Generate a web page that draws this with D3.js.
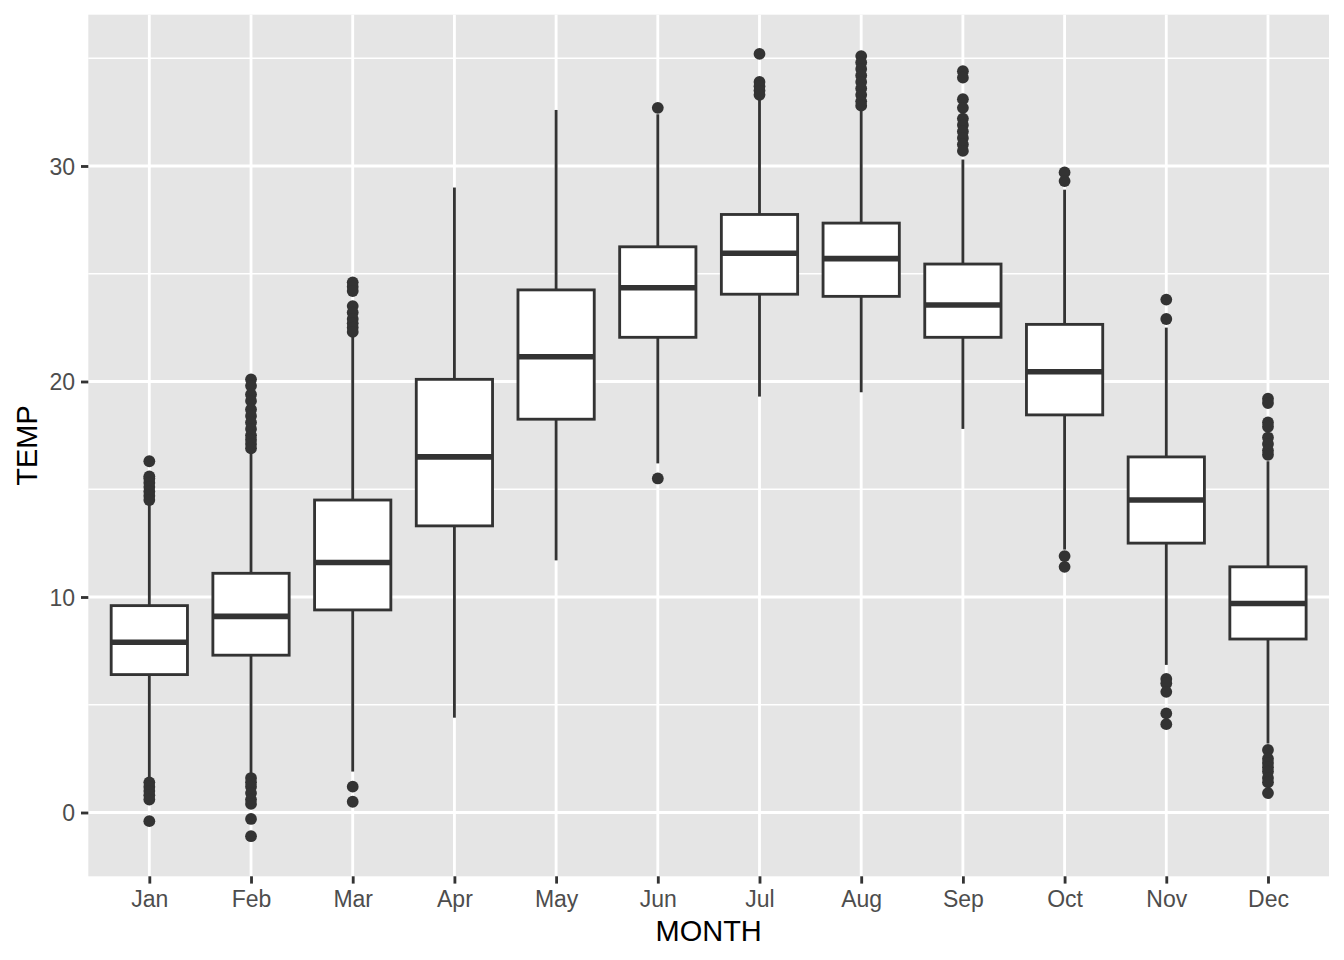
<!DOCTYPE html>
<html>
<head>
<meta charset="utf-8">
<script src="https://cdn.jsdelivr.net/npm/d3@7"></script>
<style>
  html, body { margin: 0; padding: 0; background: #ffffff; }
  svg { display: block; }
</style>
</head>
<body>
<svg id="chart" width="1344" height="960"></svg>
<script>
// ---- data ----
const months = ["Jan","Feb","Mar","Apr","May","Jun","Jul","Aug","Sep","Oct","Nov","Dec"];
const q1     = [6.4, 7.3, 9.4, 13.3, 18.25, 22.05, 24.05, 23.95, 22.05, 18.45, 12.5, 8.05];
const median = [7.9, 9.1, 11.6, 16.5, 21.15, 24.35, 25.95, 25.7, 23.55, 20.45, 14.5, 9.7];
const q3     = [9.6, 11.1, 14.5, 20.1, 24.25, 26.25, 27.75, 27.35, 25.45, 22.65, 16.5, 11.4];
const whiskerLow  = [1.6, 1.8, 1.9, 4.4, 11.7, 16.2, 19.3, 19.5, 17.8, 12.2, 6.85, 3.2];
const whiskerHigh = [14.3, 16.7, 22.1, 29.0, 32.6, 32.4, 33.1, 32.6, 30.3, 28.9, 22.5, 16.3];
const outliers = [
  [16.3, 15.6, 15.5, 15.3, 15.1, 14.9, 14.7, 14.5, 1.4, 1.2, 1.0, 0.8, 0.6, -0.4],
  [20.1, 19.8, 19.4, 19.1, 18.7, 18.4, 18.1, 17.8, 17.5, 17.3, 17.1, 16.9, 1.6, 1.4, 1.2, 0.9, 0.6, 0.4, -0.3, -1.1],
  [24.6, 24.4, 24.2, 23.5, 23.2, 22.9, 22.7, 22.5, 22.3, 1.2, 0.5],
  [],
  [],
  [32.7, 15.5],
  [35.2, 33.9, 33.7, 33.5, 33.3],
  [35.1, 34.8, 34.5, 34.2, 33.9, 33.6, 33.3, 33.0, 32.8],
  [34.4, 34.1, 33.1, 32.7, 32.2, 31.9, 31.6, 31.3, 31.0, 30.7],
  [29.7, 29.3, 11.9, 11.4],
  [23.8, 22.9, 6.2, 6.0, 5.6, 4.6, 4.1],
  [19.2, 19.0, 18.1, 17.9, 17.4, 17.1, 16.8, 16.6, 2.9, 2.5, 2.3, 2.1, 1.9, 1.6, 1.4, 0.9]
];
const yTicks = [0, 10, 20, 30];
const yMinorTicks = [5, 15, 25, 35];
const xTitle = "MONTH";
const yTitle = "TEMP";

// ---- layout ----
const svg = d3.select("#chart");
const panel = { left: 88.3, right: 1329, top: 14.7, bottom: 876.3 };
const ink = "#333333";

const x = d3.scalePoint().domain(months).range([panel.left, panel.right]).padding(0.6);
const y = d3.scaleLinear().domain([-2.96, 37.02]).range([panel.bottom, panel.top]);
const step = x.step();
const boxW = step * 0.75;

// panel background
svg.append("rect")
  .attr("x", panel.left).attr("y", panel.top)
  .attr("width", panel.right - panel.left).attr("height", panel.bottom - panel.top)
  .attr("fill", "#E5E5E5");

const grid = svg.append("g");
grid.selectAll("line.minor").data(yMinorTicks).join("line")
  .attr("x1", panel.left).attr("x2", panel.right)
  .attr("y1", d => y(d)).attr("y2", d => y(d))
  .attr("stroke", "#ffffff").attr("stroke-width", 1.42);
grid.selectAll("line.majory").data(yTicks).join("line")
  .attr("x1", panel.left).attr("x2", panel.right)
  .attr("y1", d => y(d)).attr("y2", d => y(d))
  .attr("stroke", "#ffffff").attr("stroke-width", 2.84);
grid.selectAll("line.majorx").data(months).join("line")
  .attr("y1", panel.top).attr("y2", panel.bottom)
  .attr("x1", d => x(d)).attr("x2", d => x(d))
  .attr("stroke", "#ffffff").attr("stroke-width", 2.84);

// boxplots
const data = months.map((m, i) => ({
  m, q1: q1[i], med: median[i], q3: q3[i], lo: whiskerLow[i], hi: whiskerHigh[i], out: outliers[i]
}));

const g = svg.append("g");
const boxes = g.selectAll("g.box").data(data).join("g");

boxes.append("line")
  .attr("x1", d => x(d.m)).attr("x2", d => x(d.m))
  .attr("y1", d => y(d.q3)).attr("y2", d => y(d.hi))
  .attr("stroke", ink).attr("stroke-width", 2.84);
boxes.append("line")
  .attr("x1", d => x(d.m)).attr("x2", d => x(d.m))
  .attr("y1", d => y(d.q1)).attr("y2", d => y(d.lo))
  .attr("stroke", ink).attr("stroke-width", 2.84);
boxes.append("rect")
  .attr("x", d => x(d.m) - boxW / 2).attr("width", boxW)
  .attr("y", d => y(d.q3)).attr("height", d => y(d.q1) - y(d.q3))
  .attr("fill", "#ffffff").attr("stroke", ink).attr("stroke-width", 2.84);
boxes.append("line")
  .attr("x1", d => x(d.m) - boxW / 2).attr("x2", d => x(d.m) + boxW / 2)
  .attr("y1", d => y(d.med)).attr("y2", d => y(d.med))
  .attr("stroke", ink).attr("stroke-width", 5.6);
boxes.selectAll("circle").data(d => d.out.map(v => ({ m: d.m, v }))).join("circle")
  .attr("cx", d => x(d.m)).attr("cy", d => y(d.v)).attr("r", 5.9)
  .attr("fill", ink);

// axes
const font = "'Liberation Sans', Arial, Helvetica, sans-serif";

const yAxis = svg.append("g")
  .attr("transform", `translate(${panel.left},0)`)
  .call(d3.axisLeft(y).tickValues(yTicks).tickSize(7.3).tickPadding(5.9).tickFormat(d3.format("d")));
yAxis.select(".domain").remove();
yAxis.selectAll(".tick line").attr("stroke", ink).attr("stroke-width", 2.84);
yAxis.selectAll(".tick text")
  .attr("fill", "#4D4D4D").style("font-family", font).style("font-size", "23px")
  .attr("dy", "0.36em");

const xAxis = svg.append("g")
  .attr("transform", `translate(0,${panel.bottom})`)
  .call(d3.axisBottom(x).tickSize(7.3).tickPadding(5.9));
xAxis.select(".domain").remove();
xAxis.selectAll(".tick line").attr("stroke", ink).attr("stroke-width", 2.84);
xAxis.selectAll(".tick text")
  .attr("fill", "#4D4D4D").style("font-family", font).style("font-size", "23px")
  .attr("dy", "0.76em");

// axis titles
svg.append("text")
  .attr("x", (panel.left + panel.right) / 2).attr("y", 941)
  .attr("text-anchor", "middle")
  .style("font-family", font).style("font-size", "29px").attr("fill", "#000000")
  .text(xTitle);

svg.append("text")
  .attr("transform", `translate(37,${(panel.top + panel.bottom) / 2}) rotate(-90)`)
  .attr("text-anchor", "middle")
  .style("font-family", font).style("font-size", "29px").attr("fill", "#000000")
  .text(yTitle);
</script>
</body>
</html>
